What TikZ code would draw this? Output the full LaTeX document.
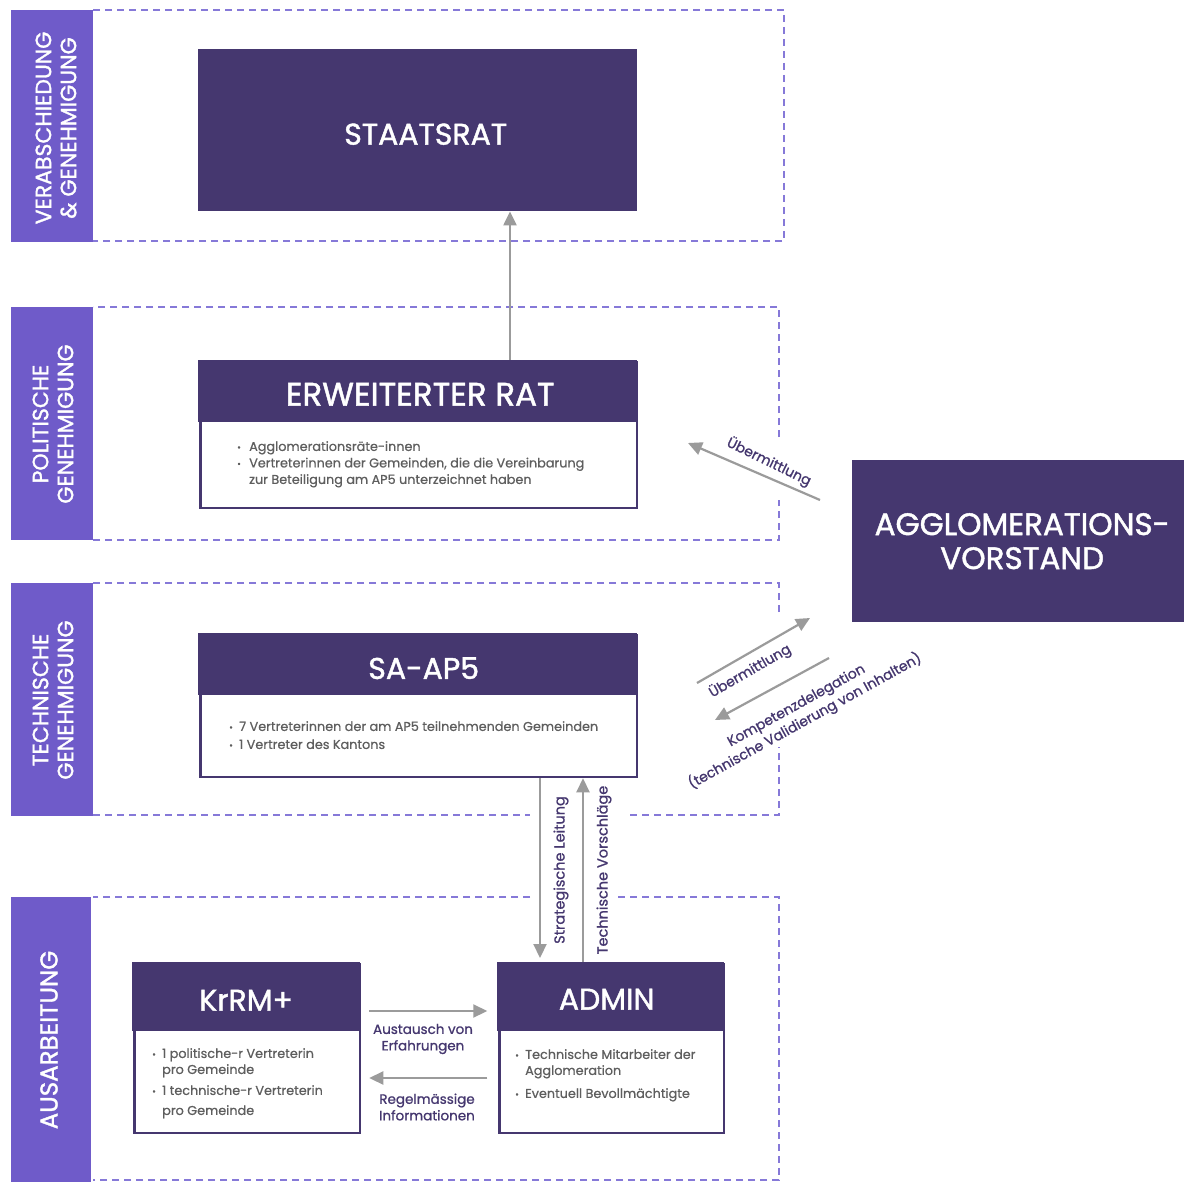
\documentclass[tikz,border=0pt]{standalone}
\usepackage{fontspec}
\setmainfont{Poppins}[FakeBold=0.6]
\newfontfamily\headf{Poppins}[FakeBold=1.4]
\newfontfamily\labf{Poppins}[FakeBold=0.9]
\usetikzlibrary{arrows.meta}
\definecolor{dpurp}{HTML}{45376F}
\definecolor{lpurp}{HTML}{6F5BC9}
\definecolor{dashc}{HTML}{8679D8}
\definecolor{arrg}{HTML}{9B9B9B}
\definecolor{bodyg}{HTML}{5E5E5E}
\newcommand\bu[1]{\makebox[#1][l]{\fontsize{9}{9}\selectfont\raisebox{0.5pt}{•}}}
\newcommand\dn[2]{\raisebox{-#1}[\height][\depth]{#2}}
\begin{document}
\begin{tikzpicture}[x=1pt,y=-1pt,
 band/.style={fill=lpurp, draw=none, anchor=north west, inner sep=0pt},
 bandtxt/.style={text=white, font=\headf\fontsize{22}{25}\selectfont, rotate=90, align=center, inner sep=0pt},
 dashln/.style={draw=dashc, line width=1.6pt, dash pattern=on 7pt off 5pt},
 darkbox/.style={fill=dpurp, draw=none, text=white, inner sep=0pt, anchor=north west, font=\headf\fontsize{30}{34}\selectfont},
 bodybox/.style={fill=white, draw=dpurp, line width=2.5pt, inner sep=0pt, anchor=north west},
 bodytxt/.style={text=bodyg, font=\fontsize{12.8}{16.5}\selectfont, align=left, anchor=north west, inner sep=0pt},
 arr/.style={draw=arrg, line width=2.2pt, -{Triangle[length=14pt,width=13pt]}},
 arrlab/.style={text=dpurp, font=\labf\fontsize{13.5}{16.5}\selectfont, align=center, inner sep=0pt},
]
\useasboundingbox (0,0) rectangle (1184,1182);
\fill[white] (0,0) rectangle (1184,1182);

% bands
\node[band, minimum width=82, minimum height=232] (b1) at (11,10) {};
\node[band, minimum width=82, minimum height=233] (b2) at (11,307) {};
\node[band, minimum width=82, minimum height=233] (b3) at (11,583) {};
\node[band, minimum width=80, minimum height=290] (b4) at (11,897) {};
\node[bandtxt] (b1t) at (56,128) {VERABSCHIEDUNG\\\& GENEHMIGUNG};
\node[bandtxt] (b2t) at (53,424) {POLITISCHE\\GENEHMIGUNG};
\node[bandtxt] (b3t) at (53,700) {TECHNISCHE\\GENEHMIGUNG};
\node[bandtxt, font=\headf\fontsize{24.5}{28}\selectfont] (b4t) at (49,1040) {AUSARBEITUNG};

% dashed frames
\draw[dashln] (93,10) -- (784,10) -- (784,241) -- (93,241);
\draw[dashln] (779,437) -- (779,307) -- (93,307);
\draw[dashln] (93,540) -- (779,540) -- (779,500);
\draw[dashln] (779,612) -- (779,583) -- (93,583);
\draw[dashln] (93,815) -- (530,815);
\draw[dashln] (630,815) -- (779,815) -- (779,747);
\draw[dashln] (530,897) -- (93,897);
\draw[dashln] (618,897) -- (779,897) -- (779,1180) -- (93,1180);

% Staatsrat
\node[darkbox, minimum width=439, minimum height=162] (staat) at (198,49) {\hspace*{16pt}\dn{4pt}{STAATSRAT}};

% Erweiterter Rat
\node[bodybox, minimum width=436.5, minimum height=145.5] (rat) at (199.25,361.25) {};
\node[darkbox, minimum width=439, minimum height=62, font=\headf\fontsize{32.5}{36}\selectfont] (rathead) at (198,360) {\hspace*{5pt}\dn{3pt}{ERWEITERTER RAT}};
\node[bodytxt] (ratt) at (237,441) {\bu{12pt}Agglomerationsräte-innen\\\bu{12pt}Vertreterinnen der Gemeinden, die die Vereinbarung\\\hspace*{12pt}zur Beteiligung am AP5 unterzeichnet haben};

% SA-AP5
\node[bodybox, minimum width=436.5, minimum height=141.5] (sa) at (199.25,634.25) {};
\node[darkbox, minimum width=439, minimum height=62] (sahead) at (198,633) {\hspace*{12pt}\dn{4pt}{SA-AP5}};
\node[bodytxt, font=\fontsize{12.8}{18}\selectfont] (sat) at (229,721) {\bu{10pt}7 Vertreterinnen der am AP5 teilnehmenden Gemeinden\\\bu{10pt}1 Vertreter des Kantons};

% Agglomerationsvorstand
\node[darkbox, minimum width=340, minimum height=162, align=center, font=\headf\fontsize{31}{34}\selectfont] (agg) at (852,460) {AGGLOMERATIONS-\\VORSTAND};

% KrRM+
\node[bodybox, minimum width=225.5, minimum height=168.5] (krrm) at (133.25,963.25) {};
\node[darkbox, minimum width=228, minimum height=69] (krrmhead) at (132,962) {\dn{3.5pt}{KrRM+}};
\node[bodytxt, font=\fontsize{12.8}{16}\selectfont] (krrmt) at (152,1048) {\bu{10pt}1 politische-r Vertreterin\\\hspace*{10pt}pro Gemeinde\\[5pt]\bu{10pt}1 technische-r Vertreterin\\[4pt]\hspace*{10pt}pro Gemeinde};

% ADMIN
\node[bodybox, minimum width=224.5, minimum height=168.5] (admin) at (498.25,963.25) {};
\node[darkbox, minimum width=227, minimum height=69] (adminhead) at (497,962) {\hspace*{-8pt}\dn{2.5pt}{ADMIN}};
\node[bodytxt, font=\fontsize{12.8}{16}\selectfont] (admint) at (515,1049) {\bu{10pt}Technische Mitarbeiter der\\\hspace*{10pt}Agglomeration\\[7pt]\bu{10pt}Eventuell Bevollmächtigte};

% helper coordinates
\coordinate (x510) at (510,0);
\coordinate (x540) at (540,0);
\coordinate (x583) at (583,0);
\coordinate (y1011) at (0,1011);
\coordinate (y1078) at (0,1078);
\coordinate (u1a) at (820,500);
\coordinate (u1b) at (688,443);
\coordinate (u2a) at (697,683);
\coordinate (u2b) at (810,618);
\coordinate (k1a) at (829,658);
\coordinate (k1b) at (715,720);

% connectors
\draw[arr] (rathead.north -| x510) -- (staat.south -| x510);
\draw[arr] (u1a) -- (u1b);
\draw[arr] (u2a) -- (u2b);
\draw[arr] (k1a) -- (k1b);
\draw[arr, shorten >=4pt] (sa.south -| x540) -- (adminhead.north -| x540);
\draw[arr] (adminhead.north -| x583) -- (sa.south -| x583);
\draw[arr, shorten <=8pt, shorten >=11pt] (krrm.east |- y1011) -- (admin.west |- y1011);
\draw[arr, shorten <=11pt, shorten >=8pt] (admin.west |- y1078) -- (krrm.east |- y1078);

% connector labels
\node[arrlab, rotate=-26, font=\labf\fontsize{14}{17}\selectfont] (l1) at (769,462) {Übermittlung};
\node[arrlab, rotate=30, font=\labf\fontsize{14}{17}\selectfont] (l2) at (750,671) {Übermittlung};
\node[arrlab, rotate=29, font=\labf\fontsize{14}{18}\selectfont] (l3) at (801,714) {Kompetenzdelegation\\(technische Validierung von Inhalten)};
\node[arrlab, rotate=90, font=\labf\fontsize{14.5}{17}\selectfont] (l4) at (561,870) {Strategische Leitung};
\node[arrlab, rotate=90, font=\labf\fontsize{14.5}{17}\selectfont] (l5) at (604,870) {Technische Vorschläge};
\node[arrlab] (l6) at (423,1039) {Austausch von\\Erfahrungen};
\node[arrlab] (l7) at (427,1107) {Regelmässige\\Informationen};
\end{tikzpicture}
\end{document}
